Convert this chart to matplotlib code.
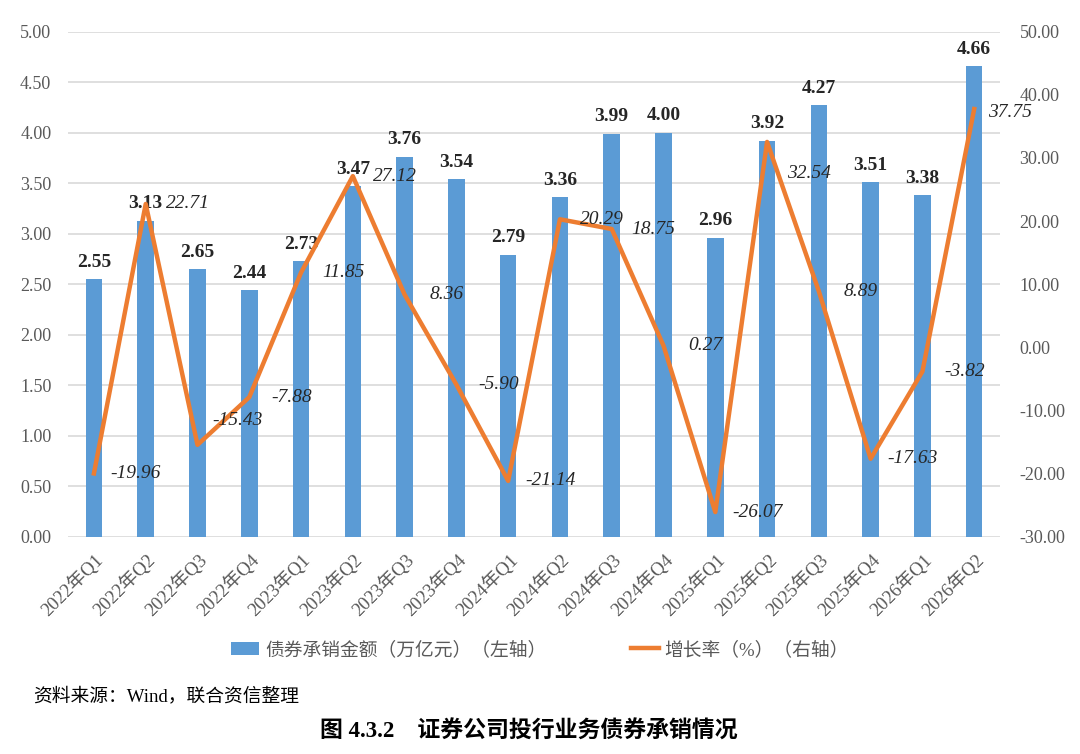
import matplotlib
matplotlib.use('Agg')
import matplotlib.pyplot as plt
from matplotlib.patches import Patch
from matplotlib.lines import Line2D

plt.rcParams['font.family'] = ['Liberation Serif', 'Noto Sans CJK SC']

# 数据
quarters = ['2022年Q1', '2022年Q2', '2022年Q3', '2022年Q4',
            '2023年Q1', '2023年Q2', '2023年Q3', '2023年Q4',
            '2024年Q1', '2024年Q2', '2024年Q3', '2024年Q4',
            '2025年Q1', '2025年Q2', '2025年Q3', '2025年Q4',
            '2026年Q1', '2026年Q2']
amount = [2.55, 3.13, 2.65, 2.44, 2.73, 3.47, 3.76, 3.54, 2.79,
          3.36, 3.99, 4.00, 2.96, 3.92, 4.27, 3.51, 3.38, 4.66]
growth = [-19.96, 22.71, -15.43, -7.88, 11.85, 27.12, 8.36, -5.90, -21.14,
          20.29, 18.75, 0.27, -26.07, 32.54, 8.89, -17.63, -3.82, 37.75]

blue = '#5B9BD5'
orange = '#ED7D31'
grey = '#595959'

fig = plt.figure(figsize=(10.8, 7.54), dpi=100)
ax = fig.add_axes([0.063, 0.288, 0.863, 0.670])
ax2 = ax.twinx()

x = range(len(quarters))
ax.bar(x, amount, width=0.32, color=blue, zorder=2)
ax.set_ylim(0, 5)
ax.set_yticks([i * 0.5 for i in range(11)])
ax.set_yticklabels([f'{i * 0.5:.2f}' for i in range(11)])
ax.set_xlim(-0.5, len(quarters) - 0.5)
ax.grid(axis='y', color='#D9D9D9', linewidth=1.2, zorder=0)
ax.set_axisbelow(True)

for i, v in enumerate(amount):
    ax.annotate(f'{v:.2f}', (i, v), xytext=(0, 17), textcoords='offset pixels',
                ha='center', va='center', fontsize=14, fontweight='bold', color='#262626')

ax2.plot(x, growth, color=orange, linewidth=3.2, zorder=3)
ax2.set_ylim(-30, 50)
ax2.set_yticks(range(-30, 51, 10))
ax2.set_yticklabels([f'{t:.2f}' for t in range(-30, 51, 10)])

# 个别标签位置调整（像素）
shift = {2: (40, 24), 13: (42, -32), 17: (36, -3)}
for i, v in enumerate(growth):
    dx, dy = shift.get(i, (42, 0))
    ax2.annotate(f'{v:.2f}', (i, v), xytext=(dx, dy), textcoords='offset pixels',
                 ha='center', va='center', fontsize=14, fontstyle='italic', color='#262626')

for a in (ax, ax2):
    for s in a.spines.values():
        s.set_visible(False)
    a.tick_params(length=0, labelsize=13, labelcolor=grey)

ax.set_xticks(list(x))
ax.set_xticklabels(quarters, rotation=45, ha='right', rotation_mode='anchor',
                   fontsize=13.5, color=grey)
ax.tick_params(axis='x', pad=10)
ax.tick_params(axis='y', pad=12)
ax2.tick_params(axis='y', pad=14)

handles = [Patch(facecolor=blue), Line2D([], [], color=orange, linewidth=3.2)]
fig.legend(handles, ['债券承销金额（万亿元）（左轴）', '增长率（%）（右轴）'],
           loc='center', bbox_to_anchor=(0.5, 0.138), ncol=2, frameon=False,
           fontsize=13.5, labelcolor=grey, handlelength=1.5, columnspacing=4.5,
           handletextpad=0.3)

fig.text(0.031, 0.076, '资料来源：Wind，联合资信整理', fontsize=13.5, va='center', ha='left')
fig.text(0.49, 0.029, '图 4.3.2    证券公司投行业务债券承销情况', fontsize=16.5,
         fontweight='bold', va='center', ha='center')

fig.savefig('out.png', dpi=100)
